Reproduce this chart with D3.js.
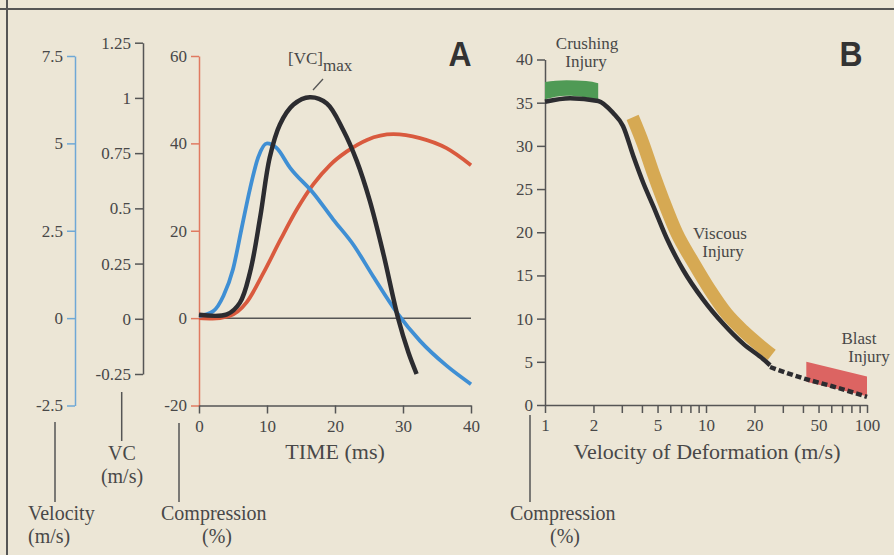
<!DOCTYPE html>
<html><head><meta charset="utf-8">
<script src="https://cdn.jsdelivr.net/npm/d3@7"></script>
<style>
html,body{margin:0;padding:0;background:#ece6d6;}
svg{display:block;}
text{font-family:"Liberation Serif","DejaVu Serif",serif;fill:#484848;}
</style></head>
<body>
<svg id="c" width="894" height="555"></svg>
<script>
// ---------- Panel A data ----------
const timeTicks = [0, 10, 20, 30, 40];
const timeTickLabels = ["0", "10", "20", "30", "40"];
const velTicks = [-2.5, 0, 2.5, 5, 7.5];
const velTickLabels = ["-2.5", "0", "2.5", "5", "7.5"];
const vcTicks = [-0.25, 0, 0.25, 0.5, 0.75, 1, 1.25];
const vcTickLabels = ["-0.25", "0", "0.25", "0.5", "0.75", "1", "1.25"];
const compTicks = [-20, 0, 20, 40, 60];
const compTickLabels = ["-20", "0", "20", "40", "60"];

const compTime = [0, 2, 4.5, 7, 9.5, 12, 14.4, 16.8, 19.3, 21.7, 24.7, 28.6, 32.5, 36.4, 40];
const compValues = [0, -0.1, 0.5, 3.6, 10.4, 18, 24.9, 30.6, 35.1, 38.1, 40.8, 42.1, 41.2, 38.9, 35];

const velTime = [0, 2.1, 3.6, 5.0, 6.3, 7.5, 8.7, 10.0, 11.4, 13.4, 16.8, 19.75, 22.7, 25.6, 29.1, 32.5, 36.4, 40];
const velValues = [0.06, 0.2, 0.64, 1.4, 2.6, 3.7, 4.6, 5.0, 4.87, 4.3, 3.58, 2.82, 2.1, 1.2, 0.16, -0.65, -1.36, -1.89];

const vcTime = [0, 4.1, 6.0, 7.5, 9.0, 10.4, 11.9, 13.9, 16.3, 18.8, 21.2, 23.2, 25.1, 27.1, 29.3, 30.8, 32.0];
const vcValues = [0.018, 0.02, 0.072, 0.21, 0.46, 0.73, 0.88, 0.97, 1.003, 0.975, 0.855, 0.715, 0.536, 0.296, 0.0, -0.153, -0.25];

// ---------- Panel B data ----------
const defTicks = [1, 2, 5, 10, 20, 50, 100];
const defTickLabels = ["1", "2", "5", "10", "20", "50", "100"];
const defMinorTicks = [3, 4, 6, 7, 8, 9, 30, 40, 60, 70, 80, 90];
const compBTicks = [0, 5, 10, 15, 20, 25, 30, 35, 40];
const compBTickLabels = ["0", "5", "10", "15", "20", "25", "30", "35", "40"];

const toleranceVel = [1, 1.43, 2.14, 2.65, 3.05, 3.54, 4.08, 4.71, 5.7, 7.23, 9.6, 12.8, 17, 22.7, 25];
const toleranceComp = [35.1, 35.5, 35.2, 33.8, 32.3, 28.8, 25.7, 23, 19.3, 15.6, 12.2, 9.4, 7.1, 5.3, 4.6];

const extrapVel = [25, 40, 60, 100];
const extrapComp = [4.4, 3.1, 2.2, 0.95];

const crushVel = [1, 1.36, 1.8, 2.14];
const crushLow = [35.4, 35.8, 35.6, 35.3];
const crushHigh = [37.4, 37.6, 37.5, 37.25];

const viscousVel = [3.5, 4.08, 4.71, 5.43, 6.58, 8.34, 10.6, 13.4, 17, 21.6, 25.6];
const viscousComp = [33.3, 30.2, 26.8, 23.7, 19.9, 16.5, 13.3, 10.6, 8.6, 6.9, 5.8];

const blastVel = [42, 100];
const blastLow = [2.7, 1.0];
const blastHigh = [5.0, 3.3];

// ---------- drawing ----------
const svg = d3.select("#c");
const GRAY = "#484848";

// frame
svg.append("line").attr("x1", 0).attr("x2", 894).attr("y1", 9).attr("y2", 9).attr("stroke", "#555").attr("stroke-width", 2);
svg.append("line").attr("x1", 7).attr("x2", 7).attr("y1", 0).attr("y2", 555).attr("stroke", "#555").attr("stroke-width", 2);

// scales A
const xA = d3.scaleLinear().domain([0, 40]).range([199, 471]);
const yComp = d3.scaleLinear().domain([-20, 60]).range([405.5, 56]);
const yVel = d3.scaleLinear().domain([-2.5, 7.5]).range([405.5, 56]);
const yVC = d3.scaleLinear().domain([-0.25, 1.25]).range([374, 42.7]);

function styleAxis(g, color, fs) {
  g.selectAll("path.domain").attr("stroke", color).attr("stroke-width", 1.5);
  g.selectAll(".tick line").attr("stroke", color).attr("stroke-width", 1.5);
  g.selectAll(".tick text").attr("fill", GRAY).style("font-size", (fs || 17) + "px")
    .style("font-family", "'Liberation Serif',serif");
}
function labelFmt(ticks, labels) { return (d) => labels[ticks.indexOf(d)]; }

const gVel = svg.append("g").attr("transform", "translate(75,0)")
  .call(d3.axisLeft(yVel).tickValues(velTicks).tickFormat(labelFmt(velTicks, velTickLabels)).tickSize(8).tickSizeOuter(0).tickPadding(4));
styleAxis(gVel, "#6fa8d6");

const gVC = svg.append("g").attr("transform", "translate(143,0)")
  .call(d3.axisLeft(yVC).tickValues(vcTicks).tickFormat(labelFmt(vcTicks, vcTickLabels)).tickSize(8).tickSizeOuter(0).tickPadding(4));
styleAxis(gVC, "#555");

const gComp = svg.append("g").attr("transform", "translate(199,0)")
  .call(d3.axisLeft(yComp).tickValues(compTicks).tickFormat(labelFmt(compTicks, compTickLabels)).tickSize(8).tickSizeOuter(0).tickPadding(4));
styleAxis(gComp, "#e07a60");

const gTime = svg.append("g").attr("transform", "translate(0,405.5)")
  .call(d3.axisBottom(xA).tickValues(timeTicks).tickFormat(labelFmt(timeTicks, timeTickLabels)).tickSize(8).tickSizeOuter(0).tickPadding(6));
styleAxis(gTime, "#555");

// zero line
svg.append("line").attr("x1", xA(0)).attr("x2", xA(40)).attr("y1", yComp(0)).attr("y2", yComp(0))
  .attr("stroke", "#555").attr("stroke-width", 1.5);

// curves A
const lineComp = d3.line().x((d, i) => xA(compTime[i])).y(d => yComp(d)).curve(d3.curveMonotoneX);
const lineVel = d3.line().x((d, i) => xA(velTime[i])).y(d => yVel(d)).curve(d3.curveMonotoneX);
const lineVC = d3.line().x((d, i) => xA(vcTime[i])).y(d => yVC(d)).curve(d3.curveCatmullRom.alpha(0.5));

svg.append("path").attr("d", lineComp(compValues)).attr("fill", "none").attr("stroke", "#d95a3e").attr("stroke-width", 3.8);
svg.append("path").attr("d", lineVel(velValues)).attr("fill", "none").attr("stroke", "#3f8fd4").attr("stroke-width", 3.8);
svg.append("path").attr("d", lineVC(vcValues)).attr("fill", "none").attr("stroke", "#2c2c30").attr("stroke-width", 4.5).attr("stroke-linecap", "butt");

// [VC]max label
const vcMaxLabel = svg.append("text").attr("x", 288).attr("y", 64).style("font-size", "17px");
vcMaxLabel.append("tspan").text("[VC]");
vcMaxLabel.append("tspan").attr("dy", 7).style("font-size", "17px").text("max");
svg.append("line").attr("x1", 323).attr("y1", 79).attr("x2", 313).attr("y2", 90).attr("stroke", "#555").attr("stroke-width", 1.3);

// Panel letters
svg.append("text").attr("x", 460).attr("y", 66).attr("text-anchor", "middle")
  .attr("textLength", 23).attr("lengthAdjust", "spacingAndGlyphs")
  .style("font-family", "'Liberation Sans','DejaVu Sans',sans-serif").style("font-weight", "900").style("font-size", "35px")
  .style("fill", "#333").text("A");
svg.append("text").attr("x", 851).attr("y", 66).attr("text-anchor", "middle")
  .attr("textLength", 23).attr("lengthAdjust", "spacingAndGlyphs")
  .style("font-family", "'Liberation Sans','DejaVu Sans',sans-serif").style("font-weight", "900").style("font-size", "35px")
  .style("fill", "#333").text("B");

// axis titles
svg.append("text").attr("x", 335).attr("y", 459).attr("text-anchor", "middle").style("font-size", "22px").text("TIME (ms)");
svg.append("text").attr("x", 707).attr("y", 459).attr("text-anchor", "middle").style("font-size", "22px").text("Velocity of Deformation (m/s)");

// bottom-left leader labels
function leader(x, y1, y2) {
  svg.append("line").attr("x1", x).attr("x2", x).attr("y1", y1).attr("y2", y2).attr("stroke", "#555").attr("stroke-width", 1.5);
}
function title(x, y, t, anchor) {
  svg.append("text").attr("x", x).attr("y", y).attr("text-anchor", anchor || "start").style("font-size", "20px").text(t);
}
leader(55, 422, 502);
title(28, 520, "Velocity"); title(28, 543, "(m/s)");
leader(121.7, 392, 441);
title(122, 460, "VC", "middle"); title(122, 483, "(m/s)", "middle");
leader(179, 423, 502);
title(161, 520, "Compression"); title(217, 543, "(%)", "middle");
leader(530, 415, 502);
title(510, 520, "Compression"); title(565, 543, "(%)", "middle");

// ---------- Panel B ----------
const xB = d3.scaleLog().domain([1, 100]).range([545, 867]);
const yB = d3.scaleLinear().domain([0, 40]).range([405, 59.5]);

const gYB = svg.append("g").attr("transform", "translate(545,0)")
  .call(d3.axisLeft(yB).tickValues(compBTicks).tickFormat(labelFmt(compBTicks, compBTickLabels)).tickSize(8).tickSizeOuter(0).tickPadding(4));
styleAxis(gYB, "#555");

const gXB = svg.append("g").attr("transform", "translate(0,405)")
  .call(d3.axisBottom(xB).tickValues(defTicks).tickFormat(labelFmt(defTicks, defTickLabels)).tickSize(8).tickSizeOuter(0).tickPadding(6));
styleAxis(gXB, "#555");
const gXBm = svg.append("g").attr("transform", "translate(0,405)")
  .call(d3.axisBottom(xB).tickValues(defMinorTicks).tickFormat("").tickSize(8).tickSizeOuter(0));
gXBm.select("path.domain").remove();
gXBm.selectAll(".tick line").attr("stroke", "#555").attr("stroke-width", 1.5);

// bands
const crushArea = d3.area().x((d, i) => xB(crushVel[i])).y0((d, i) => yB(crushLow[i])).y1(d => yB(d)).curve(d3.curveMonotoneX);
svg.append("path").attr("d", crushArea(crushHigh)).attr("fill", "#4f9a55");

const blastArea = d3.area().x((d, i) => xB(blastVel[i])).y0((d, i) => yB(blastLow[i])).y1(d => yB(d));
svg.append("path").attr("d", blastArea(blastHigh)).attr("fill", "#dc6462");

const viscousLine = d3.line().x((d, i) => xB(viscousVel[i])).y(d => yB(d)).curve(d3.curveMonotoneX);
svg.append("path").attr("d", viscousLine(viscousComp)).attr("fill", "none").attr("stroke", "#d6a953").attr("stroke-width", 13).attr("stroke-linecap", "butt");

// tolerance curve
const tolLine = d3.line().x((d, i) => xB(toleranceVel[i])).y(d => yB(d)).curve(d3.curveMonotoneX);
svg.append("path").attr("d", tolLine(toleranceComp)).attr("fill", "none").attr("stroke", "#2c2c30").attr("stroke-width", 4.5);
const extLine = d3.line().x((d, i) => xB(extrapVel[i])).y(d => yB(d)).curve(d3.curveMonotoneX);
svg.append("path").attr("d", extLine(extrapComp)).attr("fill", "none").attr("stroke", "#2c2c30").attr("stroke-width", 4.5)
  .attr("stroke-dasharray", "6,3");

// injury labels
function lbl(x, y, t) { svg.append("text").attr("x", x).attr("y", y).attr("text-anchor", "middle").style("font-size", "17px").text(t); }
lbl(587, 49, "Crushing"); lbl(586, 67, "Injury");
lbl(720, 239, "Viscous"); lbl(723, 257, "Injury");
lbl(859, 344, "Blast"); lbl(869, 362, "Injury");
</script>
</body></html>
